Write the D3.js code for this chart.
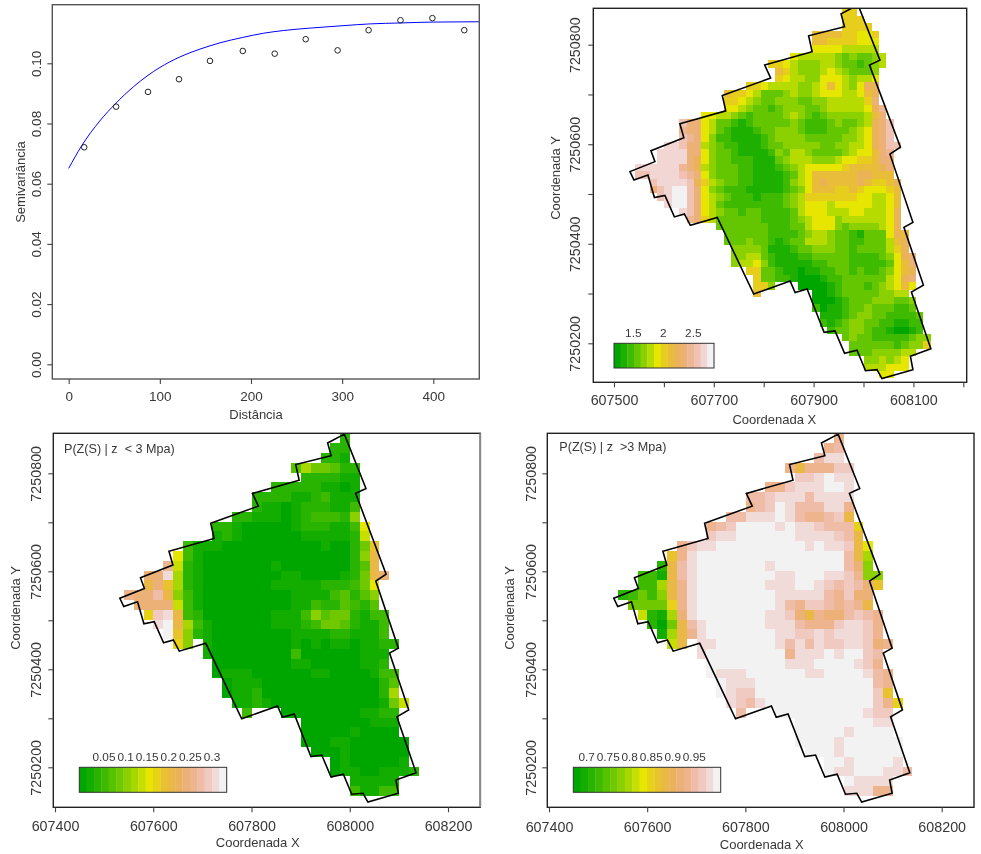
<!DOCTYPE html>
<html lang="en">
<head>
<meta charset="UTF-8">
<title>Semivariograma e mapas</title>
<script src="https://cdn.jsdelivr.net/npm/d3@7"></script>
<style>
	html, body { margin: 0; background: #fff; }
	svg { display: block; font-family: "Liberation Sans", Arial, sans-serif; filter: blur(0.35px); }
	text { fill: #383838; }
</style>
</head>
<body>
<svg id="chart" width="981" height="854"></svg>
<script>
// semivariogram
var lagDistance = [17, 52, 87, 121, 155, 191, 226, 260, 295, 329, 364, 399, 434];
var lagSemivariance = [0.0721, 0.0856, 0.0905, 0.0947, 0.1008, 0.1041, 0.1032, 0.1080, 0.1043, 0.1110, 0.1143, 0.1150, 0.1110];
var modelDistance = [0, 14, 34, 52, 71, 87, 111, 133, 155, 166, 191, 214, 236, 265, 301, 331, 364, 400, 450];
var modelSemivariance = [0.0651, 0.0725, 0.0808, 0.0868, 0.0922, 0.0960, 0.1005, 0.1035, 0.1058, 0.1068, 0.1086, 0.1100, 0.1109, 0.1117, 0.1125, 0.1131, 0.1134, 0.1137, 0.1138];
var semivarXTicks = [0, 100, 200, 300, 400];
var semivarYTicks = [0, 0.02, 0.04, 0.06, 0.08, 0.1];

// field boundary in map coordinates
var boundaryX = [607989, 607955, 607962, 607890, 607897, 607802, 607814, 607717, 607724, 607632, 607640, 607574, 607582, 607532, 607540, 607568, 607581, 607602, 607621, 607641, 607653, 607707, 607780, 607853, 607863, 607887, 607921, 607943, 607962, 607987, 608004, 608027, 608037, 608099, 608094, 608135, 608096, 608120, 608081, 608099, 608053, 608074, 608012, 608033];
var boundaryY = [7250880, 7250862, 7250836, 7250818, 7250786, 7250759, 7250733, 7250698, 7250667, 7250641, 7250613, 7250587, 7250565, 7250545, 7250528, 7250538, 7250493, 7250497, 7250454, 7250460, 7250437, 7250453, 7250299, 7250325, 7250302, 7250309, 7250222, 7250225, 7250180, 7250186, 7250145, 7250147, 7250129, 7250147, 7250174, 7250189, 7250303, 7250317, 7250433, 7250443, 7250580, 7250594, 7250759, 7250769];

// raster rows: [first column, colour class per cell in base 36, "." = no cell]
var penetrationRows = [
	[29,"77"],[29,"777"],[29,"7777"],[25,"888877667"],[25,"887777666"],[25,"666655555"],
	[22,"6555554343345"],[19,"7765444554332345"],[20,"87544456543334"],[20,"76554466654556"],
	[16,"776555544568654699"],[13,"877653334544566655689"],[13,"77654334443344555557a"],
	[13,"665433234443345555569b"],[10,"66554323333454323444" + "4458a"],
	[7,"caa65332123333343222" + "3433459ac"],[7,"baa65321112334443222" + "3334569ac"],
	[7,"cba64221111234444333" + "3344569ac"],[5,"ddcaa543221112334444" + "433445569acc"],
	[4,"ddddaa64332111124355" + "4333345668ab"],[4,"dddda964332221113455" + "5444566778aa"],
	[1,"ddddddba954333221112" + "34566666788889a"],[1,"ccddddcba64333221111" + "235688888899888"],
	[3,"cddddc97543322111124" + "56898888987789"],[3,"acdeeca6432221111123" + "46888778766678"],
	[4,"cdeeca65432221222345" + "7777777665568"],[5,"deeca653222222223456" + "665666665568"],
	[7,"dca65433233222235666" + "5556655569"],[8,"ba753333332222345666" + "455555569"],
	[12,"33333332223356664344" + "44569"],[13,"33333322223455433213" + "33698"],
	[13,"33343321233555433223" + "33589"],[14,"44443111233444332333" + "3579"],
	[14,"44553211122333332222" + "3469a"],[14,"45564211111223332222" + "2368a"],
	[16,"77332110112233232234" + "689"],[17,"73322100012233333356" + "9a"],
	[17,"774...0000123332345686"],[17,"8.......0012333334455"],[25,"00012333444334"],
	[25,"20112334333223"],[26,"11123443322223"],[26,"21234433221122"],[27,"2334432210012"],
	[29,"343322222344"],[30,"33333323447"],[30,"333444455"],[32,"445456"],[32,"555666"],[34,"66"]
];
var probBelowRows = [
	[22,"2"],[21,"22"],[20,"221"],[17,"4755422"],[18,"222211"],[15,"222221101"],[13,"22221123111"],
	[13,"21101222113"],[11,"2211101233326"],[9,"2210000012221139"],[9,"1210000001111128"],
	[6,"3111000000000010025b"],[5,"931000000000000000" + "26c"],[4,"f821000000010000000" + "24c"],
	[2,"eei72100000000110000" + "125ce"],[2,"ceb72100000001111122" + "2359"],
	[0,"feegc631000000000111" + "134246"],[1,"eeee831000000000113" + "224324"],
	[2,"ahic3200000001113645" + "52133"],[3,"ijc731000000111235542" + "113"],
	[4,"jb62100000000111122" + "1113"],[5,"a6.10000000010101101" + "122"],
	[8,"1000000003000000111"],[9,"000000001100000112"],[9,"0111000000110000133"],
	[10,"011100000000000024"],[10,"011200000000000027"],[11,"112100000000000158"],
	[12,"3...000000001122"],[18,"0000000111"],[18,"0000010000"],[18,"00011000000"],
	[19,"0001000000"],[21,"01000001"],[21,"011001112"],[23,"11111"],[23,"31133"]
];
var probAboveRows = [
	[22,"f"],[21,"fg"],[20,"gii"],[17,"fcfffhh"],[18,"hhijii"],[15,"ffhiiijji"],[13,"gghiiigiiii"],
	[13,"fghjigggiif"],[11,"ggiiijigffghc"],[9,"fghjjjjijiihggga"],[9,"hiijjjjjjiiiihgc"],
	[6,"fhiijjjjjjjjjijiihc9"],[5,"bfijjjjjjjjjjjjjjjgc7"],[4,"2cgijjjjjjjijjjjjjjge6"],
	[2,"331cgijjjjjjjjiijjjiihf66"],[2,"337cfijjjjjjjiiijjihghgeb"],[0,"23536cfijjjjjjjjiiiiigfhee"],
	[1,"5555afijjjjjjjjigfhhgfgfc"],[2,"8217eijjjjjjjiihecfeeghgf"],[3,"205cgijjjjjjiiigfffhiihf"],
	[4,"17cfijjjjjjjiihhihiiihf"],[5,"8c.iijjjjjjigigihhiihef"],[8,"ijjjjjjjjfiiijijjhg"],
	[9,"jjjjjjjjiiijjjjihf"],[9,"jiiijjjjjjiijjjjigf"],[10,"jiiijjjjjjjjjjjjgf"],
	[10,"jihhjjjjjjjjjjjjhb"],[11,"ihgijjjjjjjjjjjhfa"],[12,"g...jjjjjjjjjihh"],
	[18,"jjjjjjjjii"],[18,"jjjjjijjjj"],[18,"jjjjijjjjjj"],[19,"jjjijjjjjj"],
	[21,"jjijjjji"],[21,"jiijjjiig"],[23,"jiiii"],[23,"iiiff"]
];

// tick labels
var mapXTicksTop = [607500, 607600, 607700, 607800, 607900, 608000, 608100, 608200];
var mapXLabelsTop = [607500, 607700, 607900, 608100];
var mapXTicksBottom = [607400, 607600, 607800, 608000, 608200];
var mapYTicks = [7250200, 7250300, 7250400, 7250500, 7250600, 7250700, 7250800];
var mapYLabels = [7250200, 7250400, 7250600, 7250800];
var legendValuesTop = [1.5, 2, 2.5];
var legendValuesBelow = [0.05, 0.1, 0.15, 0.2, 0.25, 0.3];
var legendValuesAbove = [0.7, 0.75, 0.8, 0.85, 0.9, 0.95];

var svg = d3.select("#chart");

// same ramp as R's terrain.colors(n)
function hsvHex(h, s, v) {
	var f = function(n) {
		var k = (n + h * 6) % 6;
		return Math.round(255 * (v - v * s * Math.max(0, Math.min(k, 4 - k, 1))));
	};
	return d3.rgb(f(5), f(3), f(1)).formatHex();
}
function terrainColors(n) {
	var k = Math.floor(n / 2), out = [];
	for (var i = 0; i < k; i++) {
		var t = k > 1 ? i / (k - 1) : 0;
		out.push(hsvHex(4 / 12 - t * 2 / 12, 1, 0.65 + t * 0.25));
	}
	for (var j = 1; j <= n - k; j++) {
		var u = j / (n - k);
		out.push(hsvHex(2 / 12 - u * 2 / 12, 1 - u, 0.9 + u * 0.05));
	}
	return out;
}

function drawFrame(g, f, color) {
	g.append("rect")
		.attr("x", f.left).attr("y", f.top)
		.attr("width", f.right - f.left).attr("height", f.bottom - f.top)
		.attr("fill", "none").attr("stroke", color).attr("stroke-width", 1.4);
}

function styleAxis(sel, size) {
	sel.select(".domain").remove();
	sel.selectAll(".tick line").attr("stroke", "#444").attr("stroke-width", 1.1);
	sel.selectAll(".tick text").attr("font-size", size).attr("font-family", "inherit").attr("fill", "#383838");
}

function drawAxes(g, f, x, y, opt) {
	var xAxis = g.append("g").attr("transform", "translate(0," + f.bottom + ")")
		.call(d3.axisBottom(x).tickValues(opt.xTicks).tickSize(opt.tick).tickPadding(opt.xPad)
			.tickFormat(function(d) { return opt.xLabels.indexOf(d) >= 0 ? opt.xFormat(d) : ""; }));
	styleAxis(xAxis, opt.fontSize);

	var yAxis = g.append("g").attr("transform", "translate(" + f.left + ",0)")
		.call(d3.axisLeft(y).tickValues(opt.yTicks).tickSize(opt.tick)
			.tickFormat(function(d) { return opt.yLabels.indexOf(d) >= 0 ? opt.yFormat(d) : ""; }));
	styleAxis(yAxis, opt.fontSize);
	yAxis.selectAll(".tick text")
		.attr("text-anchor", "middle").attr("dy", null).attr("x", 0)
		.attr("dominant-baseline", "central")
		.attr("transform", "translate(" + (opt.yLabelX - f.left) + ",0) rotate(-90)");

	g.append("text").attr("x", opt.xTitle[0]).attr("y", opt.xTitle[1])
		.attr("text-anchor", "middle").attr("dominant-baseline", "central").attr("font-size", 13).text(opt.xTitleText);
	g.append("text").attr("transform", "translate(" + opt.yTitle[0] + "," + opt.yTitle[1] + ") rotate(-90)")
		.attr("text-anchor", "middle").attr("dominant-baseline", "central").attr("font-size", 13).text(opt.yTitleText);
}

function drawSemivariogram() {
	var f = { left: 52.3, right: 479.3, top: 4.7, bottom: 379 };
	var g = svg.append("g");
	var x = d3.scaleLinear().domain([0, 400]).range([68.7, 433.3]);
	var y = d3.scaleLinear().domain([0, 0.1]).range([364.3, 63.3]);

	var line = d3.line()
		.x(function(d, i) { return x(modelDistance[i]); })
		.y(function(d) { return y(d); })
		.curve(d3.curveMonotoneX);
	g.append("path").datum(modelSemivariance)
		.attr("d", line).attr("fill", "none").attr("stroke", "#0000ff").attr("stroke-width", 1);

	g.selectAll("circle").data(lagSemivariance).join("circle")
		.attr("cx", function(d, i) { return x(lagDistance[i]); })
		.attr("cy", function(d) { return y(d); })
		.attr("r", 2.8).attr("fill", "none").attr("stroke", "#222").attr("stroke-width", 1);

	drawFrame(g, f, "#555");
	drawAxes(g, f, x, y, {
		xTicks: semivarXTicks, xLabels: semivarXTicks, xFormat: String, xPad: 7,
		yTicks: semivarYTicks, yLabels: semivarYTicks, yFormat: d3.format(".2f"),
		tick: 5, fontSize: 13.5, yLabelX: 36.7,
		xTitle: [256, 414], xTitleText: "Distância",
		yTitle: [20, 182], yTitleText: "Semivariância"
	});
}

function drawMapPanel(p, i) {
	var f = p.frame;
	var g = svg.append("g");
	var x = d3.scaleLinear().domain(p.xDomain).range(p.xRange);
	var y = d3.scaleLinear().domain(p.yDomain).range(p.yRange);
	var colors = terrainColors(p.nColors);

	var clipId = "clip" + i;
	g.append("clipPath").attr("id", clipId).append("rect")
		.attr("x", f.left).attr("y", f.top).attr("width", f.right - f.left).attr("height", f.bottom - f.top);

	var cells = [];
	p.rows.forEach(function(row, r) {
		Array.from(row[1]).forEach(function(ch, k) {
			if (ch !== ".") cells.push({ r: r, c: row[0] + k, level: parseInt(ch, 36) });
		});
	});
	g.append("g").attr("clip-path", "url(#" + clipId + ")")
		.selectAll("rect").data(cells).join("rect")
		.attr("x", function(d) { return x(p.x0 + d.c * p.dx); })
		.attr("y", function(d) { return y(p.y0 - d.r * p.dy); })
		.attr("width", function(d) { return x(p.x0 + (d.c + 1) * p.dx) - x(p.x0 + d.c * p.dx); })
		.attr("height", function(d) { return y(p.y0 - (d.r + 1) * p.dy) - y(p.y0 - d.r * p.dy); })
		.attr("fill", function(d) { return colors[d.level]; })
		.attr("shape-rendering", "crispEdges");

	// boundary
	var outline = d3.line()
		.x(function(d) { return x(d); })
		.y(function(d, k) { return y(boundaryY[k]); })
		.curve(d3.curveLinearClosed);
	g.append("path").datum(boundaryX)
		.attr("d", outline).attr("fill", "none").attr("stroke", "#000").attr("stroke-width", 1.6)
		.attr("clip-path", "url(#" + clipId + ")");

	// colour legend
	var band = d3.scaleBand().domain(d3.range(p.nColors)).range(p.legend.x);
	g.append("g").selectAll("rect").data(colors).join("rect")
		.attr("x", function(d, k) { return band(k); })
		.attr("y", p.legend.y[0])
		.attr("width", band.bandwidth() + 0.3)
		.attr("height", p.legend.y[1] - p.legend.y[0])
		.attr("fill", function(d) { return d; });
	g.append("rect")
		.attr("x", p.legend.x[0]).attr("y", p.legend.y[0])
		.attr("width", p.legend.x[1] - p.legend.x[0]).attr("height", p.legend.y[1] - p.legend.y[0])
		.attr("fill", "none").attr("stroke", "#333").attr("stroke-width", 1);
	var lx = d3.scaleLinear().domain(d3.extent(p.legend.values)).range(p.legend.labelRange);
	g.append("g").selectAll("text").data(p.legend.values).join("text")
		.attr("x", function(d) { return lx(d); })
		.attr("y", p.legend.labelY)
		.attr("text-anchor", "middle").attr("dominant-baseline", "central").attr("font-size", 11.8)
		.text(function(d) { return d; });

	if (p.note) {
		g.append("text").attr("x", p.note.x).attr("y", p.note.y)
			.attr("dominant-baseline", "central").attr("font-size", 12.6)
			.style("white-space", "pre").text(p.note.text);
	}

	drawFrame(g, f, "#222");
	if (p.rightEdge) {
		g.append("line").attr("x1", f.right).attr("x2", f.right).attr("y1", f.top).attr("y2", f.bottom)
			.attr("stroke", p.rightEdge).attr("stroke-width", 1.8);
	}
	drawAxes(g, f, x, y, {
		xTicks: p.xTicks, xLabels: p.xLabels, xFormat: String, xPad: p.xPad,
		yTicks: mapYTicks, yLabels: mapYLabels, yFormat: String,
		tick: 5, fontSize: 14.3, yLabelX: p.yLabelX,
		xTitle: p.xTitle, xTitleText: "Coordenada X",
		yTitle: p.yTitle, yTitleText: "Coordenada Y"
	});
}

drawSemivariogram();

[
	{
		rows: penetrationRows, nColors: 15,
		frame: { left: 593.3, right: 966.7, top: 8.3, bottom: 382.3 },
		xDomain: [607500, 608200], xRange: [614, 963.3],
		yDomain: [7250200, 7250800], yRange: [343.3, 44.7],
		x0: 607527, y0: 7250873, dx: 14.83, dy: 14.87,
		xTicks: mapXTicksTop, xLabels: mapXLabelsTop, xPad: 8,
		yLabelX: 575, xTitle: [774.3, 419.3], yTitle: [555, 178],
		legend: { x: [614, 714], y: [343.3, 368], values: legendValuesTop, labelRange: [633.3, 693.3], labelY: 332.7 }
	},
	{
		rows: probBelowRows, nColors: 20,
		frame: { left: 53.3, right: 480.3, top: 433.3, bottom: 807.3 },
		xDomain: [607400, 608200], xRange: [55, 448],
		yDomain: [7250200, 7250800], yRange: [767.3, 473.3],
		x0: 607540.5, y0: 7250881.6, dx: 20, dy: 20,
		xTicks: mapXTicksBottom, xLabels: mapXTicksBottom, xPad: 9,
		yLabelX: 36, xTitle: [257.7, 842.3], yTitle: [15, 608], rightEdge: "#888",
		legend: { x: [79.3, 226.7], y: [767.3, 792.3], values: legendValuesBelow, labelRange: [104, 212], labelY: 756.7 },
		note: { x: 64, y: 449, text: "P(Z(S) | z  < 3 Mpa)" }
	},
	{
		rows: probAboveRows, nColors: 20,
		frame: { left: 547.3, right: 974, top: 433.3, bottom: 807.3 },
		xDomain: [607400, 608200], xRange: [549, 941.7],
		yDomain: [7250200, 7250800], yRange: [767.3, 473.3],
		x0: 607540.5, y0: 7250881.6, dx: 20, dy: 20,
		xTicks: mapXTicksBottom, xLabels: mapXTicksBottom, xPad: 10,
		yLabelX: 530.7, xTitle: [761.7, 844.3], yTitle: [509.3, 608],
		legend: { x: [573.3, 720.7], y: [767.3, 792.3], values: legendValuesAbove, labelRange: [586.7, 694.3], labelY: 756.7 },
		note: { x: 559.3, y: 447.3, text: "P(Z(S) | z  >3 Mpa)" }
	}
].forEach(drawMapPanel);
</script>
</body>
</html>
